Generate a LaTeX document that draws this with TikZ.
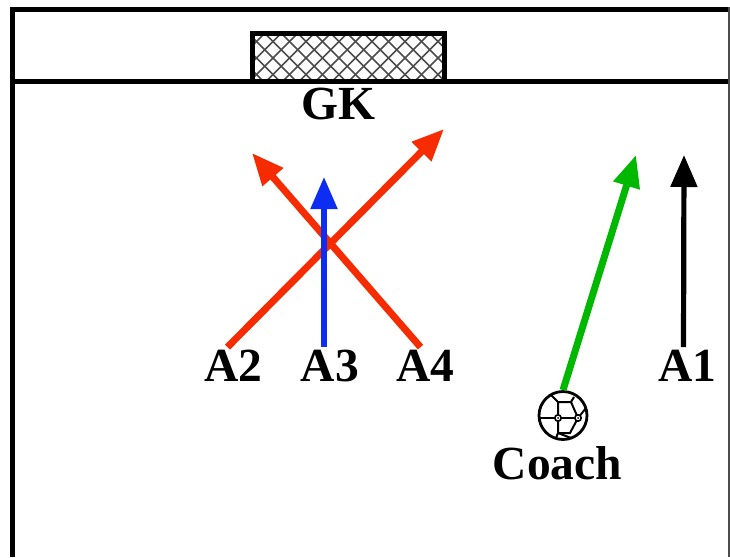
\documentclass[tikz,border=0pt]{standalone}
\usepackage{fontspec}
\setmainfont{Liberation Serif}
\usepackage{xcolor}
\usetikzlibrary{arrows.meta}
\definecolor{runred}{rgb}{0.97,0.17,0}
\definecolor{runblue}{rgb}{0.05,0.18,0.95}
\definecolor{rungreen}{rgb}{0,0.72,0}
\tikzset{
  player/.style={font=\fontsize{47.5}{47.5}\selectfont\bfseries, inner sep=0pt, text=black},
  run/.style={line width=5.2pt, -{Triangle[length=32pt, width=26pt]}},
  wall/.style={line width=5pt, line cap=butt},
  seam/.style={line width=2pt},
}
\begin{document}
\begin{tikzpicture}[line cap=butt,line join=miter, x=1pt,y=-1pt]
\useasboundingbox (0,0) rectangle (730,557);
\fill[white] (0,0) rectangle (730,557);
% field
\draw [wall] (12,557) -- (12,9.5) -- (729,9.5);
\draw [wall] (12,81) -- (729,81);
\draw [line width=1.5pt, color=black!70] (729,7) -- (729,557);
% goal net
\begin{scope}
\clip (251,32) rectangle (445,81);
\foreach \i in {-4,...,16}
{
\draw [line width=1.7pt, color=black!70] (240+\i*16.5,25) -- (306+\i*16.5,91);
\draw [line width=1.7pt, color=black!70] (306+\i*16.5,25) -- (240+\i*16.5,91);
}
\end{scope}
\draw [line width=5pt] (252,33.5) rectangle (444,81);
% players
\node[player] (gk) at (338,104) {GK};
\node[player] (a2) at (233.5,366) {A2};
\node[player] (a3) at (330,366) {A3};
\node[player] (a4) at (425.5,366) {A4};
\node[player] (a1) at (687.5,366) {A1};
\node[player] (coach) at (557.5,463) {Coach};
\coordinate (a2end) at (444,129);
\coordinate (a3end) at (324,177);
\coordinate (a4end) at (252,153);
\coordinate (a1end) at (684,155);
\coordinate (coachend) at (636,155);
% ball
\node[circle, draw, line width=2.8pt, minimum size=48pt, inner sep=0pt] (ball) at (563,415.5) {};
\coordinate (hubc) at (558,418);
\coordinate (hubr) at (578,418);
\coordinate (hubt) at (558,402);
\coordinate (hubb) at (558,433);
\draw [seam] (hubc) -- (hubt) -- (551,395);
\draw [seam] (hubc) -- (hubr);
\draw [seam] (hubc) -- (540,418);
\draw [seam] (hubc) -- (hubb) -- (556,438);
\draw [seam] (hubb) -- (570,433) -- (hubr);
\draw [seam] (hubr) -- (571,402) -- (hubt);
\draw [seam] (hubr) -- (586,408);
\draw [seam] (571,402) -- (574,397);
\draw [seam] (hubb) -- (571,438);
\foreach \h in {hubc,hubr}
{
\draw [line width=1.6pt, fill=white] (\h) circle (3.2pt);
\fill (\h) circle (1pt);
}
% runs
\draw [run, line width=7pt, color=runred] ([xshift=-6pt,yshift=3pt]a2.north) -- (a2end);
\draw [run, line width=7pt, color=runred] ([xshift=-5pt,yshift=3pt]a4.north) -- (a4end);
\draw [run, color=runblue] ([xshift=-6pt,yshift=3pt]a3.north) -- (a3end);
\draw [run, color=black] ([xshift=-4pt,yshift=3pt]a1.north) -- (a1end);
\draw [run, line width=7pt, color=rungreen] (ball.north) -- (coachend);
\end{tikzpicture}
\end{document}
